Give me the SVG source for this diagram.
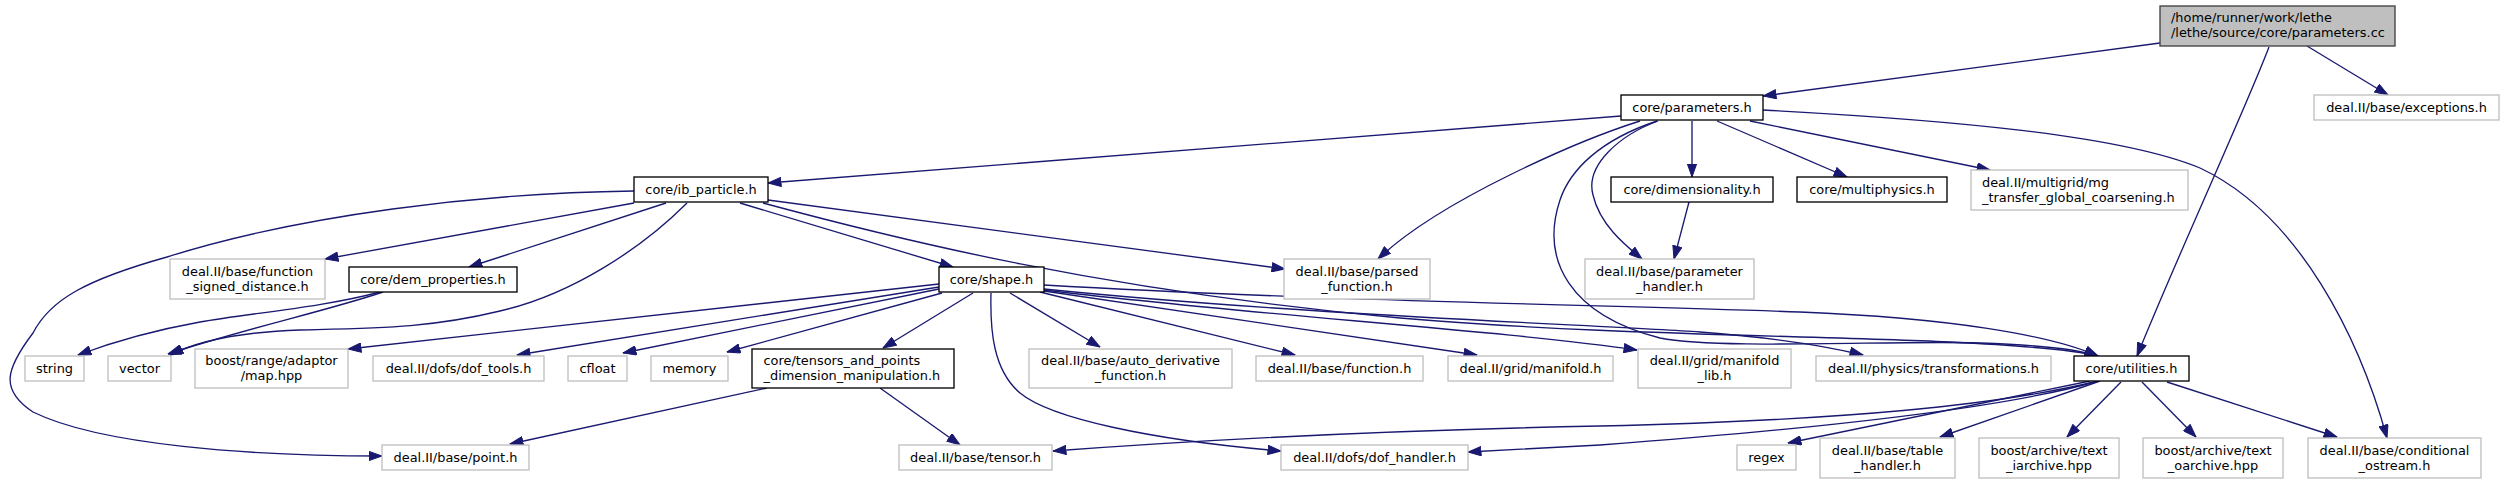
<svg xmlns="http://www.w3.org/2000/svg" width="2504" height="484" viewBox="0 0 2504 484">
<defs>
<style>
rect{fill:#ffffff;stroke-width:1.33}
.d rect{stroke:#000000}
.u rect{stroke:#bfbfbf}
.r rect{fill:#bfbfbf;stroke:#404040}
text{font-family:"DejaVu Sans","Liberation Sans",sans-serif;font-size:12.9px;fill:#000000}
.c{text-anchor:middle}
.l{text-anchor:start}
#edges path{fill:none;stroke:#191970;stroke-width:1.33;marker-end:url(#ah)}
</style>
<marker id="ah" viewBox="0 0 14 10" refX="13.5" refY="5" markerWidth="14" markerHeight="10" markerUnits="userSpaceOnUse" orient="auto">
<path d="M0.5,0.4 L13.5,5 L0.5,9.6 z" fill="#191970" stroke="#191970" stroke-width="1"/>
</marker>
</defs>
<rect x="0" y="0" width="2504" height="484" style="fill:#ffffff;stroke:none"/>
<g id="edges">
<path d="M2160,43 L1763,96"/>
<path d="M2307,46 L2388,95"/>
<path d="M2269,47 C2245,110 2180,250 2137,356"/>
<path d="M1621,116 L768,183"/>
<path d="M1640,121 C1580,140 1440,200 1378,259"/>
<path d="M1658,121 C1620,135 1585,165 1593,195 C1600,225 1625,245 1642,259"/>
<path d="M1657,121 C1600,140 1570,170 1560,200 C1540,260 1570,315 1660,338 C1720,350 1900,340 1980,343 C2040,345 2080,350 2098,356"/>
<path d="M1692,121 L1692,177"/>
<path d="M1717,121 L1847,177"/>
<path d="M1750,121 L1990,170"/>
<path d="M1763,110 C1950,120 2120,135 2200,168 C2300,215 2360,340 2387,438"/>
<path d="M1689,202 L1674,259"/>
<path d="M634,191 C480,193 300,215 167,257 C85,280 50,300 33,333 C5,370 0,390 33,412 C100,445 250,456 382,456"/>
<path d="M634,203 L325,259"/>
<path d="M666,203 L469,267"/>
<path d="M687,203 C640,250 570,295 500,311 C430,328 380,328 300,330 C240,332 200,340 170,355"/>
<path d="M740,203 L953,267"/>
<path d="M768,200 L1285,269"/>
<path d="M763,203 C900,240 1100,290 1400,318 C1600,335 1800,335 1950,342 C2030,346 2075,350 2098,356"/>
<path d="M380,292 C320,308 250,313 200,322 C150,331 110,343 78,355"/>
<path d="M383,292 C330,310 240,330 168,354"/>
<path d="M939,284 L348,349"/>
<path d="M939,287 L517,355"/>
<path d="M939,289 L623,353"/>
<path d="M942,293 L727,352"/>
<path d="M973,293 L883,348"/>
<path d="M991,293 C990,330 993,370 1020,393 C1050,418 1150,440 1281,451"/>
<path d="M1010,293 L1100,347"/>
<path d="M1040,292 L1295,355"/>
<path d="M1044,291 L1477,355"/>
<path d="M1044,290 C1250,315 1500,330 1637,350"/>
<path d="M1044,289 C1300,315 1600,325 1700,332 C1780,338 1830,347 1863,355"/>
<path d="M1044,285 C1300,300 1600,305 1800,312 C1950,318 2050,335 2098,356"/>
<path d="M767,388 L510,444"/>
<path d="M880,388 L960,445"/>
<path d="M2098,381 C2000,405 1850,420 1600,426 C1400,430 1200,440 1053,451"/>
<path d="M2098,381 C2000,410 1800,430 1600,445 C1550,448 1500,450 1468,452"/>
<path d="M2090,381 C2000,400 1900,420 1788,443"/>
<path d="M2100,381 L1940,437"/>
<path d="M2121,382 L2067,437"/>
<path d="M2142,382 L2196,437"/>
<path d="M2167,382 L2337,437"/>
</g>
<g id="n_root" class="r"><rect x="2160" y="6" width="235" height="40"/><text class="l" x="2171" y="22">/home/runner/work/lethe</text><text class="l" x="2171" y="37">/lethe/source/core/parameters.cc</text></g>
<g id="n_parameters" class="d"><rect x="1621" y="95" width="142" height="25"/><text class="c" x="1692" y="111.7">core/parameters.h</text></g>
<g id="n_exceptions" class="u"><rect x="2314" y="95" width="185" height="25"/><text class="c" x="2406.5" y="111.7">deal.II/base/exceptions.h</text></g>
<g id="n_ib_particle" class="d"><rect x="634" y="177" width="134" height="25"/><text class="c" x="701" y="193.7">core/ib_particle.h</text></g>
<g id="n_dimensionality" class="d"><rect x="1611" y="177" width="162" height="25"/><text class="c" x="1692" y="193.7">core/dimensionality.h</text></g>
<g id="n_multiphysics" class="d"><rect x="1797" y="177" width="150" height="25"/><text class="c" x="1872" y="193.7">core/multiphysics.h</text></g>
<g id="n_mg_transfer" class="u"><rect x="1971" y="170" width="217" height="40"/><text class="l" x="1982" y="186.5">deal.II/multigrid/mg</text><text class="l" x="1982" y="201.5">_transfer_global_coarsening.h</text></g>
<g id="n_function_signed_distance" class="u"><rect x="170" y="259" width="155" height="40"/><text class="c" x="247.5" y="275.5">deal.II/base/function</text><text class="c" x="247.5" y="290.5">_signed_distance.h</text></g>
<g id="n_dem_properties" class="d"><rect x="349" y="267" width="168" height="25"/><text class="c" x="433" y="283.7">core/dem_properties.h</text></g>
<g id="n_shape" class="d"><rect x="939" y="267" width="105" height="25"/><text class="c" x="991.5" y="283.7">core/shape.h</text></g>
<g id="n_parsed_function" class="u"><rect x="1284" y="259" width="146" height="40"/><text class="c" x="1357" y="275.5">deal.II/base/parsed</text><text class="c" x="1357" y="290.5">_function.h</text></g>
<g id="n_parameter_handler" class="u"><rect x="1585" y="259" width="169" height="40"/><text class="c" x="1669.5" y="275.5">deal.II/base/parameter</text><text class="c" x="1669.5" y="290.5">_handler.h</text></g>
<g id="n_string" class="u"><rect x="25" y="356" width="59" height="25"/><text class="c" x="54.5" y="372.7">string</text></g>
<g id="n_vector" class="u"><rect x="108" y="356" width="63" height="25"/><text class="c" x="139.5" y="372.7">vector</text></g>
<g id="n_map" class="u"><rect x="195" y="349" width="153" height="39"/><text class="c" x="271.5" y="365">boost/range/adaptor</text><text class="c" x="271.5" y="380">/map.hpp</text></g>
<g id="n_dof_tools" class="u"><rect x="373" y="356" width="171" height="25"/><text class="c" x="458.5" y="372.7">deal.II/dofs/dof_tools.h</text></g>
<g id="n_cfloat" class="u"><rect x="568" y="356" width="59" height="25"/><text class="c" x="597.5" y="372.7">cfloat</text></g>
<g id="n_memory" class="u"><rect x="651" y="356" width="77" height="25"/><text class="c" x="689.5" y="372.7">memory</text></g>
<g id="n_tensors_and_points" class="d"><rect x="752" y="349" width="202" height="39"/><text class="l" x="763.5" y="365">core/tensors_and_points</text><text class="l" x="763.5" y="380">_dimension_manipulation.h</text></g>
<g id="n_auto_derivative" class="u"><rect x="1029" y="349" width="203" height="39"/><text class="c" x="1130.5" y="365">deal.II/base/auto_derivative</text><text class="c" x="1130.5" y="380">_function.h</text></g>
<g id="n_function" class="u"><rect x="1256" y="356" width="167" height="25"/><text class="c" x="1339.5" y="372.7">deal.II/base/function.h</text></g>
<g id="n_manifold" class="u"><rect x="1448" y="356" width="165" height="25"/><text class="c" x="1530.5" y="372.7">deal.II/grid/manifold.h</text></g>
<g id="n_manifold_lib" class="u"><rect x="1638" y="349" width="153" height="39"/><text class="c" x="1714.5" y="365">deal.II/grid/manifold</text><text class="c" x="1714.5" y="380">_lib.h</text></g>
<g id="n_transformations" class="u"><rect x="1816" y="356" width="235" height="25"/><text class="c" x="1933.5" y="372.7">deal.II/physics/transformations.h</text></g>
<g id="n_utilities" class="d"><rect x="2074" y="356" width="115" height="25"/><text class="c" x="2131.5" y="372.7">core/utilities.h</text></g>
<g id="n_point" class="u"><rect x="382" y="445" width="147" height="25"/><text class="c" x="455.5" y="461.7">deal.II/base/point.h</text></g>
<g id="n_tensor" class="u"><rect x="899" y="445" width="153" height="25"/><text class="c" x="975.5" y="461.7">deal.II/base/tensor.h</text></g>
<g id="n_dof_handler" class="u"><rect x="1281" y="445" width="187" height="25"/><text class="c" x="1374.5" y="461.7">deal.II/dofs/dof_handler.h</text></g>
<g id="n_regex" class="u"><rect x="1737" y="445" width="59" height="25"/><text class="c" x="1766.5" y="461.7">regex</text></g>
<g id="n_table_handler" class="u"><rect x="1820" y="438" width="135" height="40"/><text class="c" x="1887.5" y="454.5">deal.II/base/table</text><text class="c" x="1887.5" y="469.5">_handler.h</text></g>
<g id="n_iarchive" class="u"><rect x="1979" y="438" width="140" height="40"/><text class="c" x="2049" y="454.5">boost/archive/text</text><text class="c" x="2049" y="469.5">_iarchive.hpp</text></g>
<g id="n_oarchive" class="u"><rect x="2143" y="438" width="140" height="40"/><text class="c" x="2213" y="454.5">boost/archive/text</text><text class="c" x="2213" y="469.5">_oarchive.hpp</text></g>
<g id="n_conditional_ostream" class="u"><rect x="2308" y="438" width="173" height="40"/><text class="c" x="2394.5" y="454.5">deal.II/base/conditional</text><text class="c" x="2394.5" y="469.5">_ostream.h</text></g>
</svg>
